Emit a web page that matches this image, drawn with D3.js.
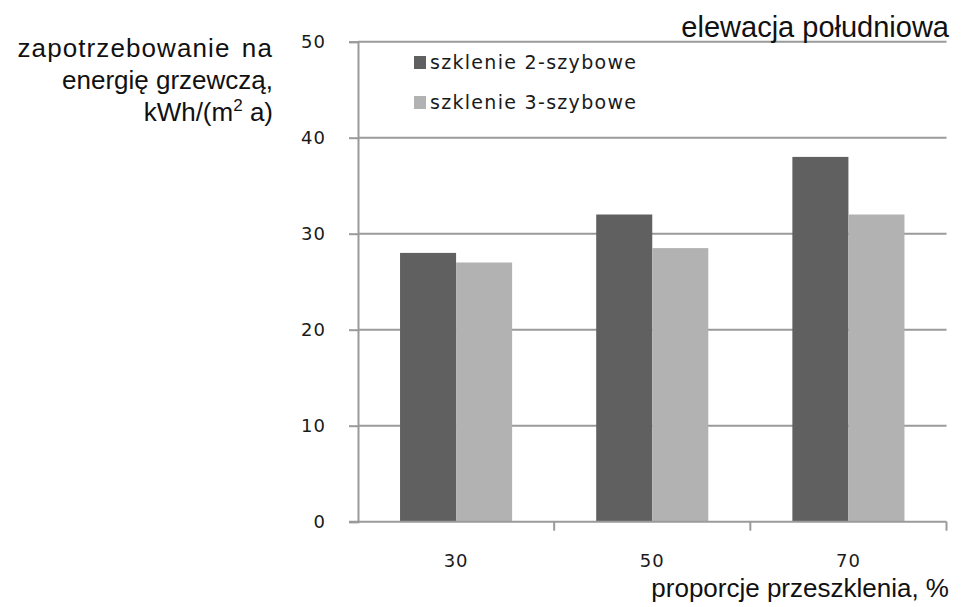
<!DOCTYPE html>
<html>
<head>
<meta charset="utf-8">
<script src="https://cdn.jsdelivr.net/npm/d3@7/dist/d3.min.js"></script>
<style>
  html, body { margin: 0; padding: 0; background: #fff; }
  svg { display: block; }
</style>
</head>
<body>
<svg id="chart" width="965" height="607"></svg>
<script>
// Heating energy demand by glazing proportion, south elevation
const categories = ["30", "50", "70"];
const seriesNames = ["szklenie 2-szybowe", "szklenie 3-szybowe"];
const values2pane = [28, 32, 38];
const values3pane = [27, 28.5, 32];
const yTicks = [0, 10, 20, 30, 40, 50];
const seriesColors = ["#606060", "#b2b2b2"];

const seriesValues = [values2pane, values3pane];
const rows = categories.map((c, i) => ({
  cat: c,
  vals: seriesNames.map((s, j) => ({ series: s, idx: j, value: seriesValues[j][i] }))
}));

const svg = d3.select("#chart");
const plot = { left: 358, right: 946.5, top: 41.7, bottom: 521.7 };

const y = d3.scaleLinear().domain([0, 50]).range([plot.bottom, plot.top]);
const x0 = d3.scaleBand().domain(categories).range([plot.left, plot.right]).padding(0);
const x1 = d3.scaleBand().domain(seriesNames).range([0, x0.bandwidth()])
  .paddingInner(0).paddingOuter(0.75);

const gridColor = "#9a9a9a";
const tickFont = "'DejaVu Sans', 'Open Sans', sans-serif";
const titleFont = "'Liberation Sans', Arial, sans-serif";

// horizontal gridlines
svg.append("g")
  .selectAll("line")
  .data(yTicks.filter(t => t > 0))
  .join("line")
  .attr("x1", plot.left).attr("x2", plot.right)
  .attr("y1", d => y(d)).attr("y2", d => y(d))
  .attr("stroke", gridColor).attr("stroke-width", 2);

// bars
svg.append("g")
  .selectAll("g")
  .data(rows)
  .join("g")
  .attr("transform", d => `translate(${x0(d.cat)},0)`)
  .selectAll("rect")
  .data(d => d.vals)
  .join("rect")
  .attr("x", d => x1(d.series))
  .attr("width", x1.bandwidth())
  .attr("y", d => y(d.value))
  .attr("height", d => y(0) - y(d.value))
  .attr("fill", d => seriesColors[d.idx]);

// y axis
const yAxis = svg.append("g")
  .attr("transform", `translate(${plot.left},0)`)
  .call(d3.axisLeft(y).tickValues(yTicks).tickSize(9).tickPadding(23).tickFormat(d3.format("d")));
yAxis.select(".domain").attr("stroke", gridColor).attr("stroke-width", 2);
yAxis.selectAll(".tick line").attr("stroke", gridColor).attr("stroke-width", 2);
yAxis.selectAll(".tick text")
  .attr("font-family", tickFont).attr("font-size", 18)
  .attr("letter-spacing", 1).attr("fill", "#1a1a1a");

// x axis: ticks sit on category boundaries
const xAxis = svg.append("g")
  .attr("transform", `translate(0,${plot.bottom})`)
  .call(d3.axisBottom(x0).tickSize(0).tickPadding(33));
xAxis.select(".domain").remove();
xAxis.selectAll(".tick text")
  .attr("font-family", tickFont).attr("font-size", 18)
  .attr("letter-spacing", 1).attr("fill", "#1a1a1a");
xAxis.append("line")
  .attr("x1", plot.left - 9).attr("x2", plot.right)
  .attr("y1", 0).attr("y2", 0)
  .attr("stroke", gridColor).attr("stroke-width", 2);
xAxis.selectAll(".boundary")
  .data(categories.map(c => x0(c) + x0.bandwidth()))
  .join("line")
  .attr("class", "boundary")
  .attr("x1", d => d).attr("x2", d => d)
  .attr("y1", 0).attr("y2", 9)
  .attr("stroke", gridColor).attr("stroke-width", 2);

// legend
const legend = svg.append("g").attr("transform", "translate(414,56)");
const legendItems = legend.selectAll("g")
  .data(seriesNames)
  .join("g")
  .attr("transform", (d, i) => `translate(0,${i * 40})`);
legendItems.append("rect")
  .attr("width", 12).attr("height", 13)
  .attr("fill", (d, i) => seriesColors[i]);
legendItems.append("text")
  .attr("x", 16).attr("y", 13)
  .attr("font-family", tickFont).attr("font-size", 19)
  .attr("letter-spacing", 1.3).attr("fill", "#1a1a1a")
  .text(d => d);

// titles
svg.append("text")
  .attr("x", 949).attr("y", 37)
  .attr("text-anchor", "end")
  .attr("font-family", titleFont).attr("font-size", 29).attr("fill", "#111")
  .text("elewacja południowa");

const yLabel = svg.append("text")
  .attr("text-anchor", "end")
  .attr("font-family", titleFont).attr("font-size", 26).attr("fill", "#111");
yLabel.append("tspan").attr("x", 273).attr("y", 57)
  .attr("letter-spacing", 1.1).attr("word-spacing", 3)
  .text("zapotrzebowanie na");
yLabel.append("tspan").attr("x", 273).attr("y", 89).text("energię grzewczą,");
const l3 = yLabel.append("tspan").attr("x", 273).attr("y", 121);
l3.append("tspan").text("kWh/(m");
l3.append("tspan").attr("dy", -10).attr("font-size", 17).text("2");
l3.append("tspan").attr("dy", 10).text(" a)");

svg.append("text")
  .attr("x", 949).attr("y", 597)
  .attr("text-anchor", "end")
  .attr("font-family", titleFont).attr("font-size", 26).attr("fill", "#111")
  .text("proporcje przeszklenia, %");
</script>
</body>
</html>
